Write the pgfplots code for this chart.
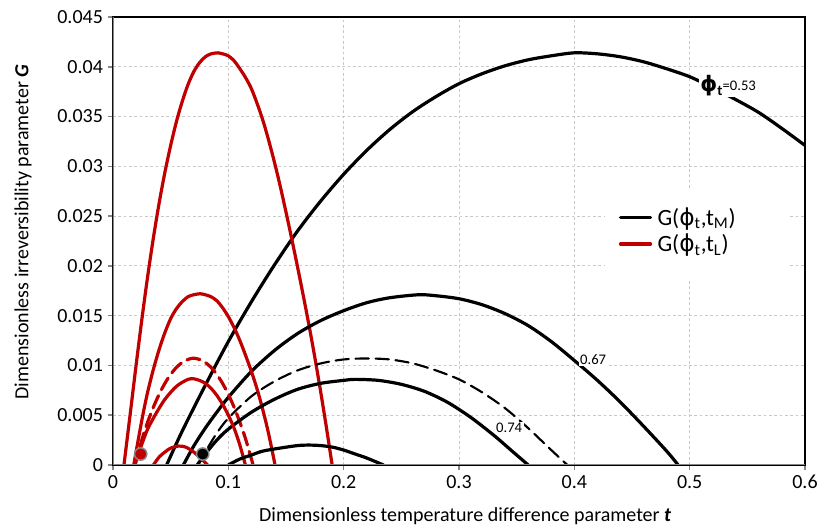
\documentclass[border=0pt]{standalone}
\usepackage{fontspec}
\setmainfont{Carlito}
\newfontfamily\symfont{DejaVu Sans}
\usepackage{pgfplots}
\pgfplotsset{compat=1.18}
\definecolor{xlred}{HTML}{C00000}
\definecolor{axgray}{HTML}{868686}
\definecolor{gridgray}{HTML}{C8C8C8}
\newcommand{\phit}{{\symfont ϕ}}

\begin{document}
\begin{tikzpicture}
\begin{axis}[
  scale only axis,
  width=519pt, height=336pt,
  xmin=0, xmax=0.6, ymin=0, ymax=0.045,
  xtick={0,0.1,0.2,0.3,0.4,0.5,0.6},
  xticklabels={0,0.1,0.2,0.3,0.4,0.5,0.6},
  ytick={0,0.005,0.01,0.015,0.02,0.025,0.03,0.035,0.04,0.045},
  yticklabels={0,0.005,0.01,0.015,0.02,0.025,0.03,0.035,0.04,0.045},
  scaled ticks=false,
  grid=major,
  grid style={gridgray, line width=0.6pt, dash pattern=on 2pt off 2pt},
  axis line style={black, line width=1.1pt},
  tick align=outside, xtick pos=left, ytick pos=left,
  major tick length=4pt,
  tick style={axgray, line width=1.1pt},
  tick label style={font=\fontsize{15}{18}\selectfont},
  /pgf/number format/assume math mode=true,
  xlabel={Dimensionless temperature difference parameter \textbf{\textit{t}}},
  ylabel={Dimensionless irreversibility parameter \textbf{\textit{G}}},
  label style={font=\fontsize{15}{18}\selectfont},
  xlabel style={at={(axis description cs:0.509,-0.114)}, anchor=center},
  ylabel style={at={(axis description cs:-0.130,0.52)}, anchor=center},
  legend style={at={(axis cs:0.4350,0.0264)}, anchor=north west, draw=none, fill=none,
    font=\fontsize{17.5}{20}\selectfont, row sep=1pt,
    nodes={inner xsep=4pt}},
  legend cell align=left,
  legend image code/.code={\draw[#1] (0pt,0pt) -- (22.5pt,0pt);},
  every axis plot/.append style={line cap=round, line join=round},
]
% white patch behind the legend
\fill[white] (axis cs:0.4267,0.0278) rectangle (axis cs:0.5872,0.0185);

% phi_t = 0.53
\addplot[black, line width=2.4pt, smooth] coordinates {
 (0.0465,0) (0.06,0.0034) (0.08,0.0080) (0.10,0.0124) (0.12,0.0164)
 (0.14,0.0201) (0.16,0.0235) (0.18,0.0265) (0.20,0.0292) (0.22,0.0316)
 (0.24,0.0337) (0.26,0.0355) (0.28,0.0370) (0.30,0.0383) (0.32,0.0393)
 (0.34,0.0401) (0.36,0.0407) (0.38,0.0411) (0.40,0.0414) (0.42,0.0413)
 (0.44,0.0410) (0.46,0.0405) (0.48,0.0398) (0.50,0.0390) (0.52,0.0379)
 (0.54,0.0367) (0.56,0.0354) (0.58,0.0338) (0.60,0.0321)};
\addlegendentry{G(\phit\textsubscript{t},t\textsubscript{M})}
\addplot[xlred, line width=2.4pt, smooth] coordinates {
 (0.0095,0) (0.015,0.0052) (0.020,0.0100) (0.025,0.0146) (0.030,0.0189)
 (0.035,0.0228) (0.040,0.0263) (0.045,0.0294) (0.050,0.0321) (0.055,0.0345)
 (0.060,0.0365) (0.065,0.0382) (0.070,0.0395) (0.075,0.0404) (0.080,0.0410)
 (0.085,0.0413) (0.0913,0.0414) (0.095,0.0413) (0.100,0.0411) (0.105,0.0406)
 (0.110,0.0398) (0.115,0.0389) (0.120,0.0378) (0.125,0.0363) (0.130,0.0346)
 (0.135,0.0326) (0.140,0.0304) (0.145,0.0280) (0.150,0.0254) (0.155,0.0227)
 (0.160,0.0199) (0.165,0.0170) (0.170,0.0140) (0.175,0.0108) (0.180,0.0074)
 (0.185,0.0038) (0.190,0)};
\addlegendentry{G(\phit\textsubscript{t},t\textsubscript{L})}

% phi_t = 0.67
\addplot[black, line width=2.4pt, smooth, forget plot] coordinates {
 (0.061,0) (0.07,0.0019) (0.08,0.0037) (0.09,0.0053) (0.10,0.0068)
 (0.12,0.0094) (0.14,0.0115) (0.16,0.0132) (0.18,0.0145) (0.20,0.0155)
 (0.22,0.0163) (0.24,0.0168) (0.265,0.0171) (0.28,0.0170) (0.30,0.0167)
 (0.32,0.0161) (0.34,0.0152) (0.36,0.0140) (0.38,0.0124) (0.40,0.0105)
 (0.42,0.0085) (0.44,0.0063) (0.46,0.0039) (0.48,0.0014) (0.49,0)};
\addplot[xlred, line width=2.4pt, smooth, forget plot] coordinates {
 (0.018,0) (0.022,0.0026) (0.026,0.0051) (0.030,0.0073) (0.035,0.0096)
 (0.040,0.0116) (0.045,0.0133) (0.050,0.0147) (0.055,0.0157) (0.060,0.0164)
 (0.065,0.0169) (0.070,0.0171) (0.0755,0.0172) (0.080,0.0171) (0.085,0.0169)
 (0.090,0.0165) (0.095,0.0158) (0.100,0.0149) (0.105,0.0138) (0.110,0.0125)
 (0.115,0.0110) (0.120,0.0094) (0.125,0.0076) (0.130,0.0055) (0.135,0.0031)
 (0.1405,0)};

% intermediate case (dashed)
\addplot[black, line width=1.6pt, dash pattern=on 10pt off 5pt, smooth, forget plot] coordinates {
 (0.074,0) (0.08,0.0013) (0.09,0.0032) (0.10,0.0047) (0.12,0.0069)
 (0.14,0.0084) (0.16,0.0095) (0.18,0.0102) (0.20,0.0106) (0.22,0.0107)
 (0.24,0.0106) (0.26,0.0102) (0.28,0.0095) (0.30,0.0086) (0.32,0.0073)
 (0.34,0.0057) (0.36,0.0037) (0.38,0.0015) (0.394,0)};
\addplot[xlred, line width=2.4pt, dash pattern=on 10pt off 5pt, smooth, forget plot] coordinates {
 (0.019,0) (0.022,0.0013) (0.026,0.0029) (0.030,0.0043) (0.035,0.0058)
 (0.040,0.0071) (0.045,0.0082) (0.050,0.0091) (0.055,0.0098) (0.060,0.0103)
 (0.065,0.0106) (0.0697,0.01073) (0.075,0.0106) (0.080,0.0103) (0.085,0.0098)
 (0.090,0.0091) (0.095,0.0082) (0.100,0.0071) (0.105,0.0058) (0.110,0.0043)
 (0.115,0.0026) (0.1215,0)};

% phi_t = 0.74
\addplot[black, line width=2.4pt, smooth, forget plot] coordinates {
 (0.073,0) (0.08,0.0011) (0.09,0.0025) (0.10,0.0036) (0.12,0.0053)
 (0.14,0.0066) (0.16,0.0076) (0.18,0.0082) (0.20,0.0085) (0.21,0.0086)
 (0.23,0.0085) (0.25,0.0081) (0.27,0.0074) (0.29,0.0063) (0.31,0.0048)
 (0.33,0.0030) (0.345,0.0015) (0.36,0)};
\addplot[xlred, line width=2.4pt, smooth, forget plot] coordinates {
 (0.019,0) (0.022,0.0011) (0.026,0.0024) (0.030,0.0036) (0.035,0.0047)
 (0.040,0.0057) (0.045,0.0066) (0.050,0.0073) (0.055,0.0079) (0.060,0.0083)
 (0.065,0.0086) (0.0677,0.00867) (0.070,0.00866) (0.075,0.0085) (0.080,0.0082)
 (0.085,0.0077) (0.090,0.0070) (0.095,0.0061) (0.100,0.0050) (0.105,0.0037)
 (0.110,0.0020) (0.1148,0)};

% smallest loop
\addplot[black, line width=2.4pt, smooth, forget plot] coordinates {
 (0.100,0) (0.11,0.0006) (0.12,0.0010) (0.13,0.0014) (0.145,0.0017)
 (0.16,0.00195) (0.17,0.0020) (0.18,0.00195) (0.19,0.0018) (0.20,0.0015)
 (0.21,0.0011) (0.22,0.0007) (0.2345,0)};
\addplot[xlred, line width=2.4pt, smooth, forget plot] coordinates {
 (0.035,0) (0.040,0.0008) (0.045,0.0013) (0.050,0.0017) (0.0567,0.0019)
 (0.063,0.0018) (0.070,0.0013) (0.076,0.0007) (0.082,0)};

% markers
\addplot[only marks, mark=*, mark size=4.6pt, forget plot,
  mark options={fill=xlred, draw=axgray, line width=1.1pt}] coordinates {(0.024,0.0011)};
\addplot[only marks, mark=*, mark size=4.6pt, forget plot,
  mark options={fill=black, draw=axgray, line width=1.1pt}] coordinates {(0.0778,0.0011)};

% curve labels
\node[fill=white, inner sep=1pt, font=\fontsize{11}{13}\selectfont] at (axis cs:0.4163,0.0106) {0.67};
\node[fill=white, inner sep=1pt, font=\fontsize{11}{13}\selectfont] at (axis cs:0.3435,0.0037) {0.74};
\node[fill=white, inner sep=1pt, anchor=west] at (axis cs:0.508,0.0381)
  {{\fontsize{16}{16}\symfont\bfseries ϕ}{\fontsize{11}{11}\selectfont\bfseries\raisebox{-3pt}{t}}{\fontsize{11}{11}\selectfont\raisebox{1pt}{=0.53}}};

% left and bottom spines in grey
\draw[axgray, line width=1.6pt] (rel axis cs:0,1) -- (rel axis cs:0,0) -- (rel axis cs:1,0);
\coordinate (ll) at (rel axis cs:0,0);
\coordinate (ur) at (rel axis cs:1,1);
\end{axis}
\pgfresetboundingbox
\path ([shift={(-84.75pt,-48pt)}]ll) rectangle ([shift={(11.25pt,12.75pt)}]ur);
\end{tikzpicture}
\end{document}
